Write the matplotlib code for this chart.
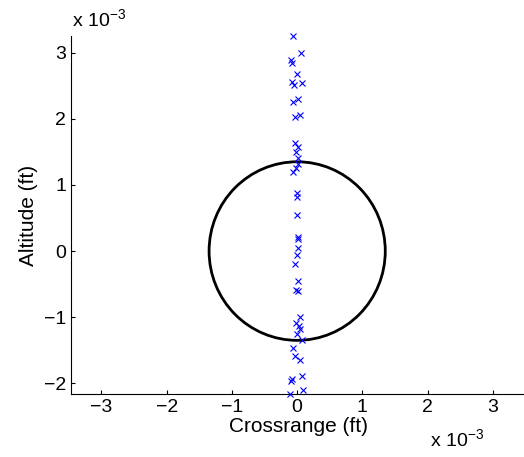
import numpy as np
import matplotlib
matplotlib.use('Agg')
import matplotlib.pyplot as plt

plt.rcParams['font.family'] = ['Liberation Sans', 'DejaVu Sans']
plt.rcParams['mathtext.fontset'] = 'custom'
plt.rcParams['mathtext.rm'] = 'Liberation Sans'

# miss distances, in units of 1e-3 ft
crossrange = [-0.06, 0.06, -0.10, -0.08, -0.01, -0.08, -0.05, 0.07, -0.06, 0.01,
              -0.04, 0.05, -0.04, 0.02, -0.02, 0.02, 0.01, -0.02, -0.07, 0.00,
              -0.01, 0.00, 0.01, 0.01, 0.02, -0.01, -0.03, 0.02, -0.02, 0.02,
              0.04, -0.02, 0.03, 0.05, 0.00, 0.07, -0.07, -0.04, 0.05, -0.08,
              -0.10, 0.07, -0.11, 0.09]
altitude = [3.25, 2.99, 2.89, 2.85, 2.67, 2.56, 2.51, 2.54, 2.26, 2.30,
            2.02, 2.06, 1.64, 1.57, 1.50, 1.40, 1.31, 1.25, 1.19, 0.88,
            0.81, 0.54, 0.21, 0.18, 0.04, -0.06, -0.20, -0.45, -0.59, -0.61,
            -1.00, -1.08, -1.14, -1.18, -1.25, -1.34, -1.46, -1.58, -1.64, -1.93,
            -1.97, -1.89, -2.16, -2.10]
radius = 1.35
scale = 1e-3

x = np.array(crossrange) * scale
y = np.array(altitude) * scale

fig = plt.figure(figsize=(5.24, 4.57), dpi=100)
ax = fig.add_axes([0.135, 0.138, 0.868, 0.783])

ax.plot(x, y, 'x', color='#0000ff', markersize=5, markeredgewidth=0.8, clip_on=False, zorder=3)
circ = plt.Circle((0, 0), radius * scale, fill=False, color='black', linewidth=2)
ax.add_patch(circ)

ax.set_xlim(-3.47e-3, 3.5e-3)
ax.set_ylim(-2.16e-3, 3.25e-3)
ax.set_xticks(np.arange(-3, 4) * scale)
ax.set_xticklabels([f'{v}'.replace('-', '\u2212') for v in range(-3, 4)])
ax.set_yticks(np.arange(-2, 4) * scale)
ax.set_yticklabels([f'{v}'.replace('-', '\u2212') for v in range(-2, 4)])
ax.tick_params(direction='in', length=3, labelsize=14, width=0.8)

for s in ['top', 'right']:
    ax.spines[s].set_visible(False)
for s in ['left', 'bottom']:
    ax.spines[s].set_linewidth(0.8)
    ax.spines[s].set_color('black')

ax.set_xlabel('Crossrange (ft)', fontsize=15, labelpad=1)
ax.set_ylabel('Altitude (ft)', fontsize=15, labelpad=4)

fig.text(0.137, 0.935, r'x $\mathregular{10^{-3}}$', fontsize=14, ha='left', va='bottom')
fig.text(0.82, 0.015, r'x $\mathregular{10^{-3}}$', fontsize=14, ha='left', va='bottom')

fig.savefig('out.png', dpi=100)
